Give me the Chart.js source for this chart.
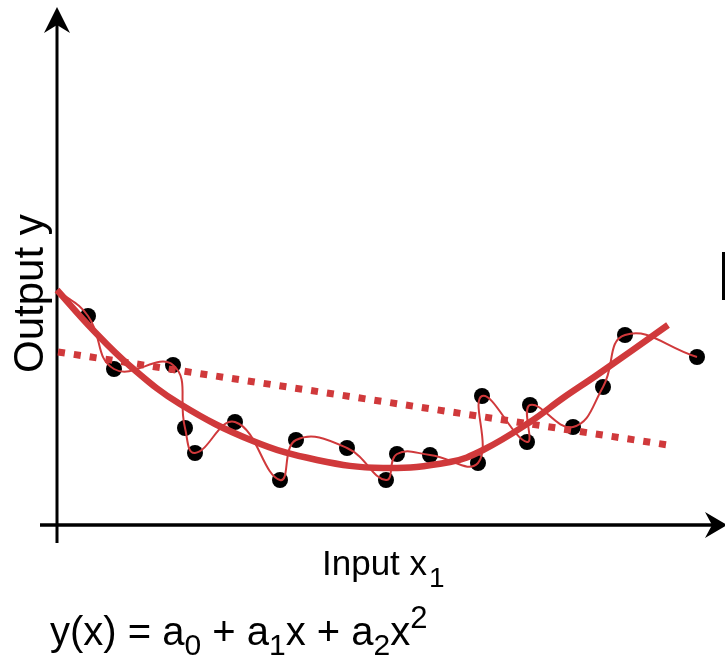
<!DOCTYPE html>
<html>
<head>
<meta charset="utf-8">
<script src="https://cdn.jsdelivr.net/npm/chart.js@4"></script>
<style>
html,body{margin:0;padding:0;background:#fff;}
#c{display:block;}
</style>
</head>
<body>
<canvas id="c" width="725" height="657"></canvas>
<script>
// Noisy samples (x, y) — units: origin at axes crossing
const sampleX = [31, 57, 116, 128, 138, 178, 223, 239, 290, 329, 340, 373, 421, 425, 470, 473, 516, 546, 568, 640];
const sampleY = [209, 156, 160, 97, 72, 103, 45, 85, 77, 45, 71, 70, 62, 129, 83, 120, 98, 138, 190, 168];
// Start of the fitted curves on the y axis
const startX = 0, startY = 235;
// Quadratic fit curve
const quadX = [0, 36, 73, 123, 196, 260, 326, 393, 426, 473, 506, 540, 611];
const quadY = [235, 195, 159, 121, 84, 65, 57, 63, 75, 103, 127, 150, 200];
// Linear fit line
const linX = [1, 611];
const linY = [173, 80];

const RED = '#d0393b';
const pts = (xs, ys) => xs.map((x, i) => ({x, y: ys[i]}));
const thinData = [{x: startX, y: startY}].concat(pts(sampleX, sampleY));

const decor = {
  id: 'decor',
  beforeDatasetsDraw(chart) {
    const ctx = chart.ctx, sx = chart.scales.x, sy = chart.scales.y;
    const ox = sx.getPixelForValue(0), oy = sy.getPixelForValue(0);
    ctx.save();
    ctx.strokeStyle = '#000'; ctx.fillStyle = '#000';
    // y axis
    ctx.lineWidth = 3;
    ctx.beginPath(); ctx.moveTo(ox, 20); ctx.lineTo(ox, oy + 18); ctx.stroke();
    ctx.beginPath();
    ctx.moveTo(ox, 7); ctx.lineTo(ox + 13, 33); ctx.lineTo(ox, 25); ctx.lineTo(ox - 13, 33); ctx.closePath(); ctx.fill();
    // x axis
    ctx.lineWidth = 3.5;
    ctx.beginPath(); ctx.moveTo(ox - 17, oy); ctx.lineTo(712, oy); ctx.stroke();
    ctx.beginPath();
    ctx.moveTo(727, oy); ctx.lineTo(705, oy - 13); ctx.lineTo(712, oy); ctx.lineTo(705, oy + 13); ctx.closePath(); ctx.fill();
    // small bar at the right edge
    ctx.fillRect(722, 252, 4, 48);
    ctx.restore();
  },
  afterDraw(chart) {
    const ctx = chart.ctx;
    ctx.save();
    ctx.fillStyle = '#000';
    ctx.textBaseline = 'alphabetic';
    ctx.textAlign = 'left';
    const F = (s) => s + 'px "Liberation Sans", Arial, Helvetica, sans-serif';
    // x label
    ctx.font = F(35);
    ctx.fillText('Input x', 322, 575);
    let w = ctx.measureText('Input x').width;
    ctx.font = F(28);
    ctx.fillText('1', 322 + w + 2, 587);
    // y label
    ctx.save();
    ctx.translate(43, 373);
    ctx.rotate(-Math.PI / 2);
    ctx.font = F(42);
    ctx.fillText('Output y', 0, 0);
    ctx.restore();
    // equation
    const segs = [
      ['y(x) = a', 40, 0], ['0', 30, 10], [' + a', 40, 0], ['1', 30, 10],
      ['x + a', 40, 0], ['2', 30, 10], ['x', 40, 0], ['2', 31, -17]
    ];
    let x = 50;
    segs.forEach(([t, s, dy]) => {
      ctx.font = F(s);
      ctx.fillText(t, x, 645 + dy);
      x += ctx.measureText(t).width;
    });
    ctx.restore();
  }
};

new Chart(document.getElementById('c'), {
  type: 'scatter',
  data: {
    datasets: [
      { label: 'interp', data: thinData, showLine: true, borderColor: RED, borderWidth: 2,
        pointRadius: 0, tension: 0.45, order: 0 },
      { label: 'quadratic', data: pts(quadX, quadY), showLine: true, borderColor: RED, borderWidth: 6.5,
        pointRadius: 0, tension: 0.4, order: 1, borderCapStyle: 'butt' },
      { label: 'linear', data: pts(linX, linY), showLine: true, borderColor: RED, borderWidth: 7,
        borderDash: [7, 9], borderCapStyle: 'butt', pointRadius: 0, order: 2 },
      { label: 'samples', data: pts(sampleX, sampleY), backgroundColor: '#000', borderWidth: 0,
        pointRadius: 8, order: 3 }
    ]
  },
  options: {
    responsive: false,
    devicePixelRatio: 1,
    animation: false,
    layout: { padding: 0, autoPadding: false },
    scales: {
      x: { type: 'linear', min: -57, max: 668, display: false },
      y: { type: 'linear', min: -132, max: 525, display: false }
    },
    plugins: { legend: { display: false }, title: { display: false }, tooltip: { enabled: false } }
  },
  plugins: [decor]
});
</script>
</body>
</html>
